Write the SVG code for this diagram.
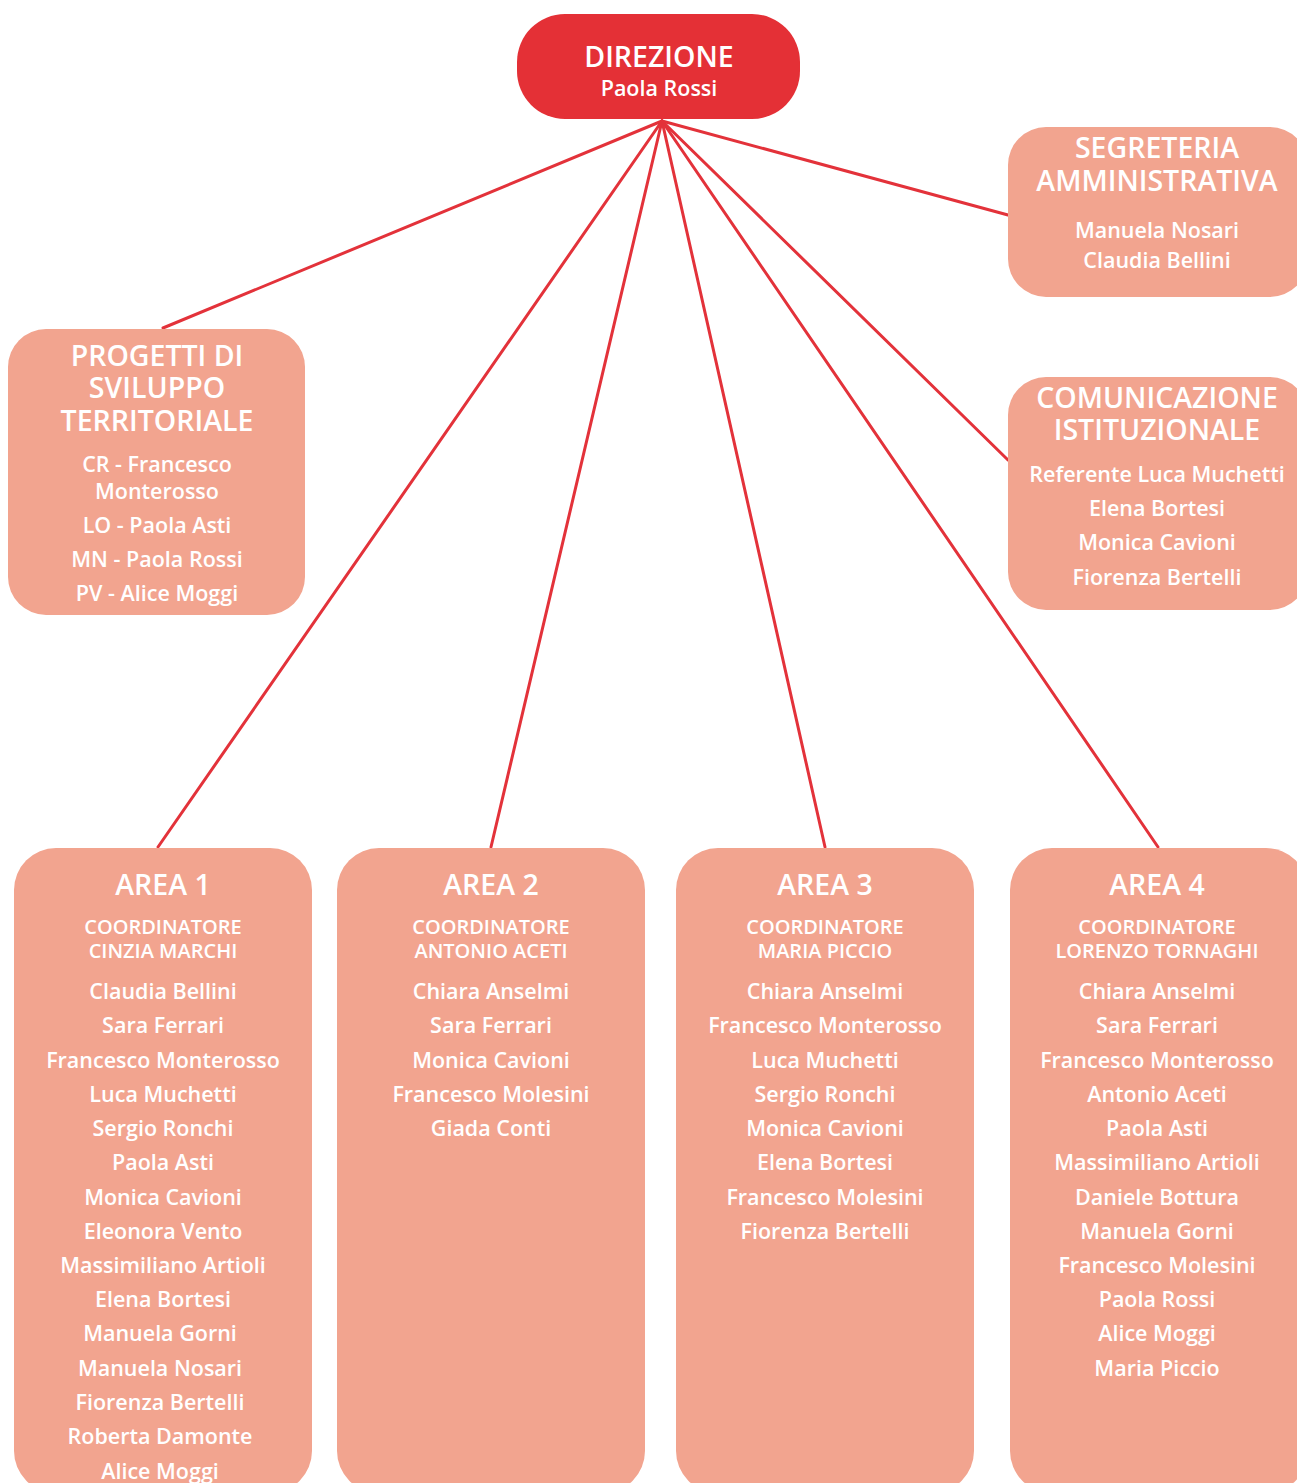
<svg xmlns="http://www.w3.org/2000/svg" width="1297" height="1483" viewBox="0 0 1297 1483">
<style>
  .box { fill: #f2a48f; }
  .dir { fill: #e43036; }
  .link { stroke: #e3323a; stroke-width: 3; fill: none; stroke-linecap: round; }
  text { font-family: "Open Sans", "Noto Sans", "DejaVu Sans", sans-serif; fill: #ffffff; text-anchor: middle; font-weight: 600; }
  .t1 { font-size: 28.5px; }
  .t2 { font-size: 21.5px; }
  .t3 { font-size: 20px; }
</style>
<rect width="1297" height="1483" fill="#ffffff"/>
<g id="connectors">
  <line class="link" x1="662" y1="121" x2="163" y2="328"/>
  <line class="link" x1="662" y1="121" x2="158" y2="847"/>
  <line class="link" x1="662" y1="121" x2="491" y2="847"/>
  <line class="link" x1="662" y1="121" x2="825" y2="847"/>
  <line class="link" x1="662" y1="121" x2="1158" y2="847"/>
  <line class="link" x1="662" y1="121" x2="1008" y2="460"/>
  <line class="link" x1="662" y1="121" x2="1008" y2="215"/>
</g>
<g id="direzione">
  <rect class="dir" x="517" y="14" width="283" height="105" rx="48"/>
  <text class="t1" x="659" y="67">DIREZIONE</text>
  <text class="t2" x="659" y="96">Paola Rossi</text>
</g>
<g id="segreteria">
  <rect class="box" x="1008" y="127" width="300" height="170" rx="38"/>
  <text class="t1" x="1157" y="158">SEGRETERIA</text>
  <text class="t1" x="1157" y="191">AMMINISTRATIVA</text>
  <text class="t2" x="1157" y="238">Manuela Nosari</text>
  <text class="t2" x="1157" y="268">Claudia Bellini</text>
</g>
<g id="progetti">
  <rect class="box" x="8" y="329" width="297" height="286" rx="38"/>
  <text class="t1" x="157" y="366">PROGETTI DI</text>
  <text class="t1" x="157" y="398">SVILUPPO</text>
  <text class="t1" x="157" y="431">TERRITORIALE</text>
  <text class="t2" x="157" y="472">CR - Francesco</text>
  <text class="t2" x="157" y="499">Monterosso</text>
  <text class="t2" x="157" y="533">LO - Paola Asti</text>
  <text class="t2" x="157" y="567">MN - Paola Rossi</text>
  <text class="t2" x="157" y="601">PV - Alice Moggi</text>
</g>
<g id="comunicazione">
  <rect class="box" x="1008" y="377" width="300" height="233" rx="38"/>
  <text class="t1" x="1157" y="408">COMUNICAZIONE</text>
  <text class="t1" x="1157" y="440">ISTITUZIONALE</text>
  <text class="t2" x="1157" y="482">Referente Luca Muchetti</text>
  <text class="t2" x="1157" y="516">Elena Bortesi</text>
  <text class="t2" x="1157" y="550">Monica Cavioni</text>
  <text class="t2" x="1157" y="585">Fiorenza Bertelli</text>
</g>
<g id="area1">
  <rect class="box" x="14" y="848" width="298" height="645" rx="42"/>
  <text class="t1" x="163" y="895">AREA 1</text>
  <text class="t3" x="163" y="934">COORDINATORE</text>
  <text class="t3" x="163" y="958">CINZIA MARCHI</text>
  <text class="t2" x="163" y="999">Claudia Bellini</text>
  <text class="t2" x="163" y="1033">Sara Ferrari</text>
  <text class="t2" x="163" y="1068">Francesco Monterosso</text>
  <text class="t2" x="163" y="1102">Luca Muchetti</text>
  <text class="t2" x="163" y="1136">Sergio Ronchi</text>
  <text class="t2" x="163" y="1170">Paola Asti</text>
  <text class="t2" x="163" y="1205">Monica Cavioni</text>
  <text class="t2" x="163" y="1239">Eleonora Vento</text>
  <text class="t2" x="163" y="1273">Massimiliano Artioli</text>
  <text class="t2" x="163" y="1307">Elena Bortesi</text>
  <text class="t2" x="160" y="1341">Manuela Gorni</text>
  <text class="t2" x="160" y="1376">Manuela Nosari</text>
  <text class="t2" x="160" y="1410">Fiorenza Bertelli</text>
  <text class="t2" x="160" y="1444">Roberta Damonte</text>
  <text class="t2" x="160" y="1479">Alice Moggi</text>
</g>
<g id="area2">
  <rect class="box" x="337" y="848" width="308" height="645" rx="42"/>
  <text class="t1" x="491" y="895">AREA 2</text>
  <text class="t3" x="491" y="934">COORDINATORE</text>
  <text class="t3" x="491" y="958">ANTONIO ACETI</text>
  <text class="t2" x="491" y="999">Chiara Anselmi</text>
  <text class="t2" x="491" y="1033">Sara Ferrari</text>
  <text class="t2" x="491" y="1068">Monica Cavioni</text>
  <text class="t2" x="491" y="1102">Francesco Molesini</text>
  <text class="t2" x="491" y="1136">Giada Conti</text>
</g>
<g id="area3">
  <rect class="box" x="676" y="848" width="298" height="645" rx="42"/>
  <text class="t1" x="825" y="895">AREA 3</text>
  <text class="t3" x="825" y="934">COORDINATORE</text>
  <text class="t3" x="825" y="958">MARIA PICCIO</text>
  <text class="t2" x="825" y="999">Chiara Anselmi</text>
  <text class="t2" x="825" y="1033">Francesco Monterosso</text>
  <text class="t2" x="825" y="1068">Luca Muchetti</text>
  <text class="t2" x="825" y="1102">Sergio Ronchi</text>
  <text class="t2" x="825" y="1136">Monica Cavioni</text>
  <text class="t2" x="825" y="1170">Elena Bortesi</text>
  <text class="t2" x="825" y="1205">Francesco Molesini</text>
  <text class="t2" x="825" y="1239">Fiorenza Bertelli</text>
</g>
<g id="area4">
  <rect class="box" x="1010" y="848" width="298" height="645" rx="42"/>
  <text class="t1" x="1157" y="895">AREA 4</text>
  <text class="t3" x="1157" y="934">COORDINATORE</text>
  <text class="t3" x="1157" y="958">LORENZO TORNAGHI</text>
  <text class="t2" x="1157" y="999">Chiara Anselmi</text>
  <text class="t2" x="1157" y="1033">Sara Ferrari</text>
  <text class="t2" x="1157" y="1068">Francesco Monterosso</text>
  <text class="t2" x="1157" y="1102">Antonio Aceti</text>
  <text class="t2" x="1157" y="1136">Paola Asti</text>
  <text class="t2" x="1157" y="1170">Massimiliano Artioli</text>
  <text class="t2" x="1157" y="1205">Daniele Bottura</text>
  <text class="t2" x="1157" y="1239">Manuela Gorni</text>
  <text class="t2" x="1157" y="1273">Francesco Molesini</text>
  <text class="t2" x="1157" y="1307">Paola Rossi</text>
  <text class="t2" x="1157" y="1341">Alice Moggi</text>
  <text class="t2" x="1157" y="1376">Maria Piccio</text>
</g>
</svg>
